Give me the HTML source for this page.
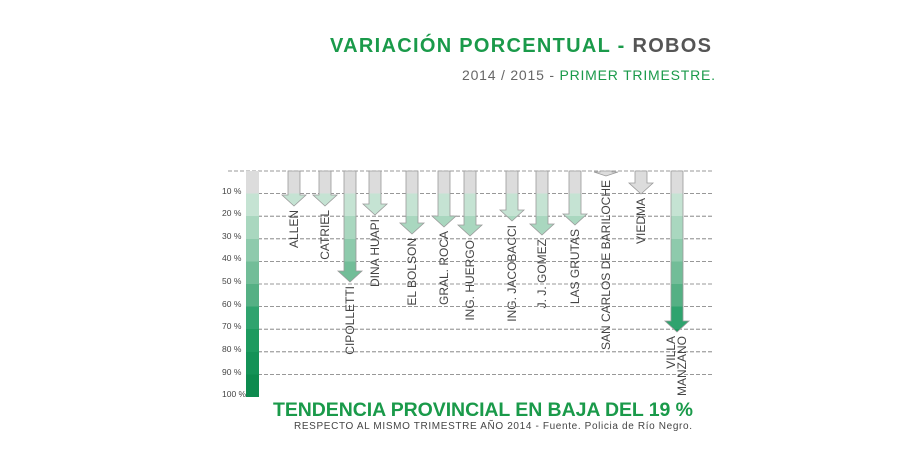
<!DOCTYPE html>
<html><head><meta charset="utf-8"><style>
body{margin:0;background:#fff;}
svg{display:block;font-family:"Liberation Sans",sans-serif;}
</style></head><body>
<svg width="924" height="456" viewBox="0 0 924 456" xmlns="http://www.w3.org/2000/svg">
<defs>
<linearGradient id="g" gradientUnits="userSpaceOnUse" x1="0" y1="171" x2="0" y2="397">
<stop offset="0" stop-color="#dcdcdc"/><stop offset="0.1" stop-color="#dcdcdc"/>
<stop offset="0.1" stop-color="#c5e3d3"/><stop offset="0.2" stop-color="#c5e3d3"/>
<stop offset="0.2" stop-color="#a9d7bf"/><stop offset="0.3" stop-color="#a9d7bf"/>
<stop offset="0.3" stop-color="#8ecaac"/><stop offset="0.4" stop-color="#8ecaac"/>
<stop offset="0.4" stop-color="#72bd98"/><stop offset="0.5" stop-color="#72bd98"/>
<stop offset="0.5" stop-color="#55b084"/><stop offset="0.6" stop-color="#55b084"/>
<stop offset="0.6" stop-color="#2fa36e"/><stop offset="0.7" stop-color="#2fa36e"/>
<stop offset="0.7" stop-color="#1d9a5f"/><stop offset="0.8" stop-color="#1d9a5f"/>
<stop offset="0.8" stop-color="#149257"/><stop offset="0.9" stop-color="#149257"/>
<stop offset="0.9" stop-color="#0d8a4e"/><stop offset="1" stop-color="#0d8a4e"/>
</linearGradient>
</defs>
<text x="330" y="52" font-size="20" font-weight="bold" fill="#1a9a4a" textLength="381" lengthAdjust="spacing">VARIACIÓN PORCENTUAL  - <tspan fill="#555">ROBOS</tspan></text>
<text x="462" y="80" font-size="14" fill="#666" textLength="253" lengthAdjust="spacing">2014 / 2015 - <tspan fill="#1a9a4a">PRIMER TRIMESTRE.</tspan></text>
<g stroke="#777" stroke-dasharray="4,2" stroke-width="0.8">
<line x1="228" y1="171" x2="712" y2="171"/>
<line x1="258" y1="193.6" x2="712" y2="193.6"/>
<line x1="258" y1="216.2" x2="712" y2="216.2"/>
<line x1="258" y1="238.8" x2="712" y2="238.8"/>
<line x1="258" y1="261.4" x2="712" y2="261.4"/>
<line x1="258" y1="284" x2="712" y2="284"/>
<line x1="258" y1="306.6" x2="712" y2="306.6"/>
<line x1="258" y1="329.2" x2="712" y2="329.2"/>
<line x1="258" y1="351.8" x2="712" y2="351.8"/>
<line x1="258" y1="374.4" x2="712" y2="374.4"/>
</g>
<rect x="246" y="171" width="13" height="226" fill="url(#g)"/>
<g font-size="8.5" fill="#444">
<text x="222" y="194">10 %</text><text x="222" y="216">20 %</text><text x="222" y="239">30 %</text>
<text x="222" y="261">40 %</text><text x="222" y="284">50 %</text><text x="222" y="307">60 %</text>
<text x="222" y="329">70 %</text><text x="222" y="352">80 %</text><text x="222" y="375">90 %</text>
<text x="222" y="397">100 %</text>
</g>
<g fill="url(#g)" stroke="#9a9a9a" stroke-width="0.8">
<path d="M288,171 h12 v24 h6 l-12,11 l-12,-11 h6z"/>
<path d="M319,171 h12 v24 h6 l-12,11 l-12,-11 h6z"/>
<path d="M344,171 h12 v100 h6 l-12,11 l-12,-11 h6z"/>
<path d="M369,171 h12 v33 h6 l-12,11 l-12,-11 h6z"/>
<path d="M406,171 h12 v52 h6 l-12,11 l-12,-11 h6z"/>
<path d="M438,171 h12 v45 h6 l-12,11 l-12,-11 h6z"/>
<path d="M464,171 h12 v54 h6 l-12,11 l-12,-11 h6z"/>
<path d="M506,171 h12 v39 h6 l-12,11 l-12,-11 h6z"/>
<path d="M536,171 h12 v53 h6 l-12,11 l-12,-11 h6z"/>
<path d="M569,171 h12 v43 h6 l-12,11 l-12,-11 h6z"/>
<path d="M600,171 h12 v1 h6 l-12,4 l-12,-4 h6z"/>
<path d="M635,171 h12 v12 h6 l-12,11 l-12,-11 h6z"/>
<path d="M671,171 h12 v150 h6 l-12,11 l-12,-11 h6z"/>
</g>
<g font-size="12" fill="#444" text-anchor="end">
<text transform="translate(298,210) rotate(-90)">ALLEN</text>
<text transform="translate(329,210) rotate(-90)">CATRIEL</text>
<text transform="translate(354,286) rotate(-90)">CIPOLLETTI</text>
<text transform="translate(379,219) rotate(-90)">DINA HUAPI</text>
<text transform="translate(416,238) rotate(-90)">EL BOLSON</text>
<text transform="translate(448,231) rotate(-90)">GRAL. ROCA</text>
<text transform="translate(474,240) rotate(-90)">ING. HUERGO</text>
<text transform="translate(516,225) rotate(-90)">ING. JACOBACCI</text>
<text transform="translate(546,239) rotate(-90)">J. J. GOMEZ</text>
<text transform="translate(579,229) rotate(-90)">LAS GRUTAS</text>
<text transform="translate(610,180) rotate(-90)">SAN CARLOS DE BARILOCHE</text>
<text transform="translate(645,198) rotate(-90)">VIEDMA</text>
<text transform="translate(675,336) rotate(-90)">VILLA</text>
<text transform="translate(686,336) rotate(-90)">MANZANO</text>
</g>
<text x="273" y="416" font-size="19.5" font-weight="bold" fill="#1a9a4a" textLength="420" lengthAdjust="spacing">TENDENCIA PROVINCIAL EN BAJA DEL 19 %</text>
<text x="294" y="429" font-size="10" fill="#444" textLength="398">RESPECTO AL MISMO TRIMESTRE AÑO 2014  - Fuente. Policia de Río Negro.</text>
</svg>
</body></html>
